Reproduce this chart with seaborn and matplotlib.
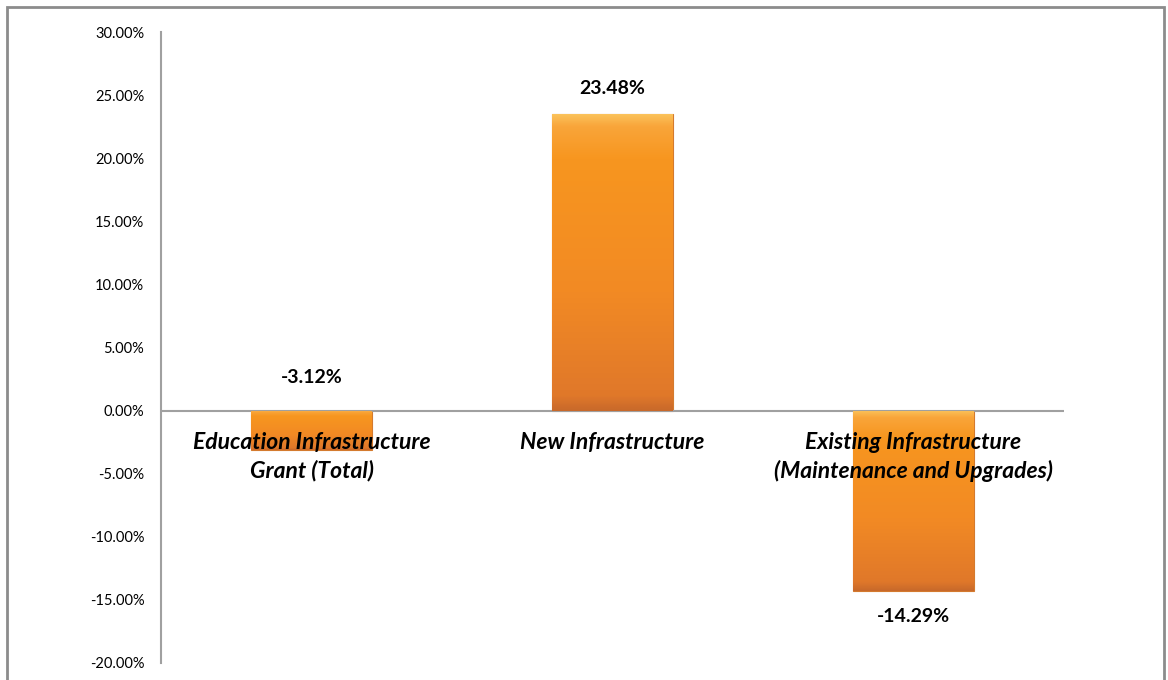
import numpy as np
import pandas as pd
import seaborn as sns
import matplotlib.pyplot as plt
from matplotlib.patches import Rectangle
from matplotlib.ticker import FuncFormatter

categories = ['Education Infrastructure\nGrant (Total)',
              'New Infrastructure',
              'Existing Infrastructure\n(Maintenance and Upgrades)']
values = [-3.12, 23.48, -14.29]
label_pos = [2.6, 25.5, -16.35]

df = pd.DataFrame({'category': categories, 'value': values})

sns.set_style('white')
plt.rcParams['font.family'] = ['Lato', 'DejaVu Sans']

fig = plt.figure(figsize=(11.68, 6.8), dpi=100)
ax = fig.add_axes([161 / 1168, 1 - 663 / 680, (1064 - 161) / 1168, (663 - 32) / 680])

sns.barplot(data=df, x='category', y='value', ax=ax, color='#F7941D',
            width=0.4, edgecolor='#D47A2E', linewidth=0.8, saturation=1)

# bevel-like vertical shading: light top, orange body, darker bottom
grad = np.linspace(0, 1, 256).reshape(-1, 1)
cmap = plt.matplotlib.colors.LinearSegmentedColormap.from_list(
    'og', [(0, '#FBC25A'), (0.04, '#F9A53A'), (0.15, '#F7961F'),
           (0.6, '#F28A24'), (0.95, '#E0782A'), (1, '#C8692A')])
for p in ax.patches:
    x0, y0 = p.get_x(), p.get_y()
    w, h = p.get_width(), p.get_height()
    ylo, yhi = min(y0, y0 + h), max(y0, y0 + h)
    im = ax.imshow(grad, cmap=cmap, aspect='auto', extent=[x0, x0 + w, ylo, yhi],
                   origin='upper', zorder=p.get_zorder() + 0.1)
    im.set_clip_path(p)

ax.set_ylim(-20, 30)
ax.set_xlim(-0.5, 2.5)
ax.set_yticks(np.arange(-20, 31, 5))
ax.yaxis.set_major_formatter(FuncFormatter(lambda v, _: f'{v:.2f}%'))
ax.tick_params(axis='y', labelsize=10.5, length=0, pad=12, labelcolor='black')
ax.set_xticks([])
ax.set_xlabel('')
ax.set_ylabel('')

for s in ['top', 'right', 'bottom']:
    ax.spines[s].set_visible(False)
ax.spines['left'].set_color('#A0A0A0')
ax.spines['left'].set_linewidth(1.5)
ax.axhline(0, color='#A0A0A0', linewidth=1.5, zorder=1)

for i, (v, lp) in enumerate(zip(values, label_pos)):
    ax.text(i, lp, f'{v:.2f}%', ha='center', va='center', color='black',
            fontsize=14, fontweight='bold', zorder=5)

for i, c in enumerate(categories):
    ax.text(i, -1.7, c, ha='center', va='top', fontsize=16.5, color='black',
            fontweight='bold', fontstyle='italic', linespacing=1.4, zorder=6)

fig.patches.append(Rectangle((7 / 1168, -0.1), 1157 / 1168, 1.1 - 7 / 680,
                             transform=fig.transFigure, fill=False,
                             edgecolor='#8C8C8C', linewidth=2))

fig.savefig('out.png', dpi=100)
